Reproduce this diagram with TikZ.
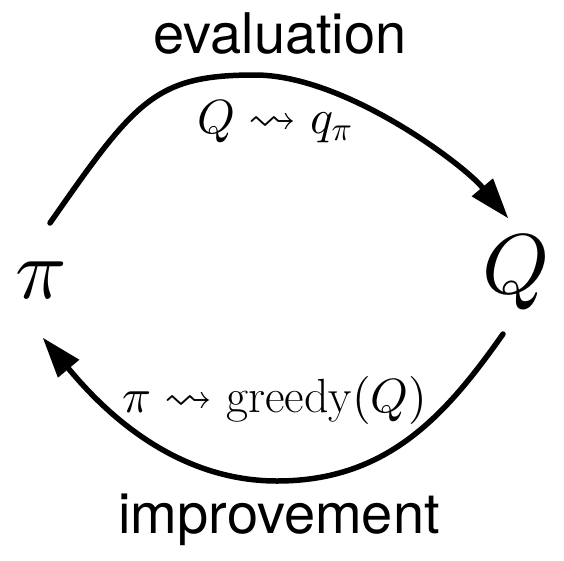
\documentclass[tikz,border=0pt]{standalone}
\usepackage{amssymb}
\usepackage{fontspec}
\DeclareFontShape{OML}{cmm}{m}{it}{<->cmmi10}{}
\DeclareFontShape{OT1}{cmr}{m}{n}{<->cmr10}{}
\DeclareFontShape{OMS}{cmsy}{m}{n}{<->cmsy10}{}
\newfontfamily\labelfont{TeX Gyre Heros}
\usetikzlibrary{arrows.meta}
\begin{document}
\begin{tikzpicture}[x=1pt,y=-1pt,
  arc/.style={line width=5.5pt, line cap=round,
    -{Triangle[length=40pt,width=28pt,line width=0pt]}},
  word/.style={anchor=base, inner sep=0pt, font=\labelfont\fontsize{56}{60}\selectfont},
  mlabel/.style={anchor=base, inner sep=0pt, font=\fontsize{48}{52}\selectfont},
  big/.style={anchor=base, inner sep=0pt, font=\fontsize{85}{90}\selectfont}]
\useasboundingbox (0,0) rectangle (564,560);
\node[word] (eval) at (280,53) {evaluation};
\node[word] (impr) at (279,533) {improvement};
\node[mlabel] (topl) at (275,133) {$Q \leadsto q_\pi$};
\node[mlabel] (botl) at (275,412) {$\pi \leadsto \mathrm{greedy}(Q)$};
\node[big] (pi) at (41,298) {$\pi$};
\node[big] (Q) at (516,293) {$Q$};
\coordinate (ts) at (50,223);
\coordinate (tp) at (255,75);
\coordinate (te) at (508,218);
\coordinate (bs) at (503,334);
\coordinate (bp) at (277,481);
\coordinate (be) at (43,338);
\draw[arc] (ts) .. controls (135.8,100) and (155,75) .. (tp)
  .. controls (345,75) and (463,164.3) .. (te);
\draw[arc] (bs) .. controls (445.5,415.8) and (387,481) .. (bp)
  .. controls (167,481) and (94.3,399.4) .. (be);
\end{tikzpicture}
\end{document}
